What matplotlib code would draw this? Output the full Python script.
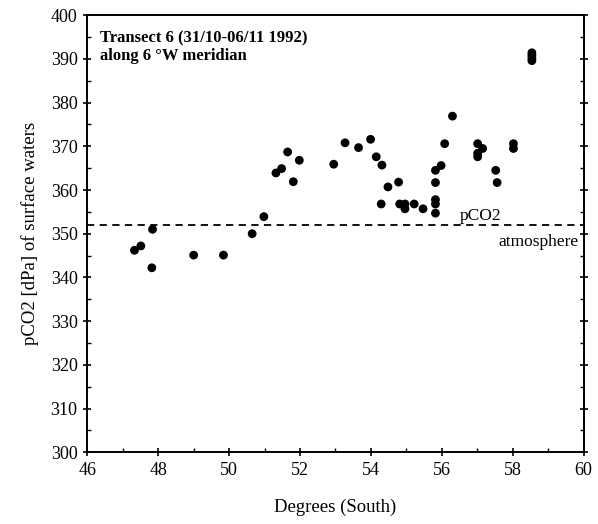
import numpy as np
import matplotlib
matplotlib.use("Agg")
import matplotlib.pyplot as plt
from matplotlib.ticker import MultipleLocator

plt.rcParams['font.family'] = ['Liberation Serif', 'DejaVu Serif']

# latitude (degrees south) and surface-water pCO2 (dPa)
lat = [47.33, 47.51, 47.84, 47.82, 49.00, 49.84, 50.65, 50.98,
       51.32, 51.48, 51.65, 51.81, 51.98, 52.95, 53.27, 53.65,
       53.99, 54.15, 54.31, 54.29, 54.48, 54.78, 54.81, 54.96,
       54.96, 55.22, 55.47, 55.82, 55.98, 55.82, 55.82, 55.82,
       55.82, 56.08, 56.30, 57.01, 57.15, 57.01, 57.01, 57.52,
       57.56, 58.02, 58.02, 58.54, 58.54, 58.54, 58.54]
pco2 = [346.2, 347.2, 351.0, 342.2, 345.1, 345.1, 350.0, 353.9,
        363.9, 364.9, 368.7, 361.9, 366.8, 365.9, 370.8, 369.7,
        371.6, 367.6, 365.7, 356.8, 360.7, 361.8, 356.8, 356.8,
        355.7, 356.8, 355.7, 364.5, 365.6, 361.7, 357.8, 356.8,
        354.7, 370.6, 376.9, 370.6, 369.5, 368.4, 367.6, 364.5,
        361.7, 370.6, 369.5, 391.4, 390.8, 390.2, 389.6]
atm_pco2 = 352.0

fig = plt.figure(figsize=(5.98, 5.24), dpi=100)
ax = fig.add_axes([0.146, 0.137, 0.83, 0.834])

ax.scatter(lat, pco2, s=40, c='black', edgecolors='none', zorder=3)
ax.axhline(atm_pco2, color='black', lw=1.3, ls=(0, (4, 3)), zorder=2)

ax.text(57.1, atm_pco2 + 0.3, 'pCO2', fontsize=12.5, ha='center', va='bottom',
        bbox=dict(facecolor='white', edgecolor='none', pad=0.5), zorder=4)
ax.text(59.85, 348.0, 'atmosphere', fontsize=12.5, ha='right', va='center')

ax.text(46.35, 392.6, 'Transect 6 (31/10-06/11 1992)\nalong 6 \u00b0W meridian',
        fontsize=12, fontweight='bold', ha='left', va='center', linespacing=1.15)

ax.set_xlim(46, 60)
ax.set_ylim(300, 400)
ax.xaxis.set_major_locator(MultipleLocator(2))
ax.xaxis.set_minor_locator(MultipleLocator(1))
ax.yaxis.set_major_locator(MultipleLocator(10))
ax.yaxis.set_minor_locator(MultipleLocator(5))
ax.tick_params(which='major', direction='inout', length=6, width=1.2,
               labelsize=13, right=True, top=False, pad=4)
ax.tick_params(which='minor', direction='in', length=3, width=1, right=True)
for s in ax.spines.values():
    s.set_linewidth(1.4)

ax.set_xlabel('Degrees (South)', fontsize=13.5, labelpad=14)
ax.set_ylabel('pCO2 [dPa] of surface waters', fontsize=13.5, labelpad=8)

plt.savefig('out.png', dpi=100)
